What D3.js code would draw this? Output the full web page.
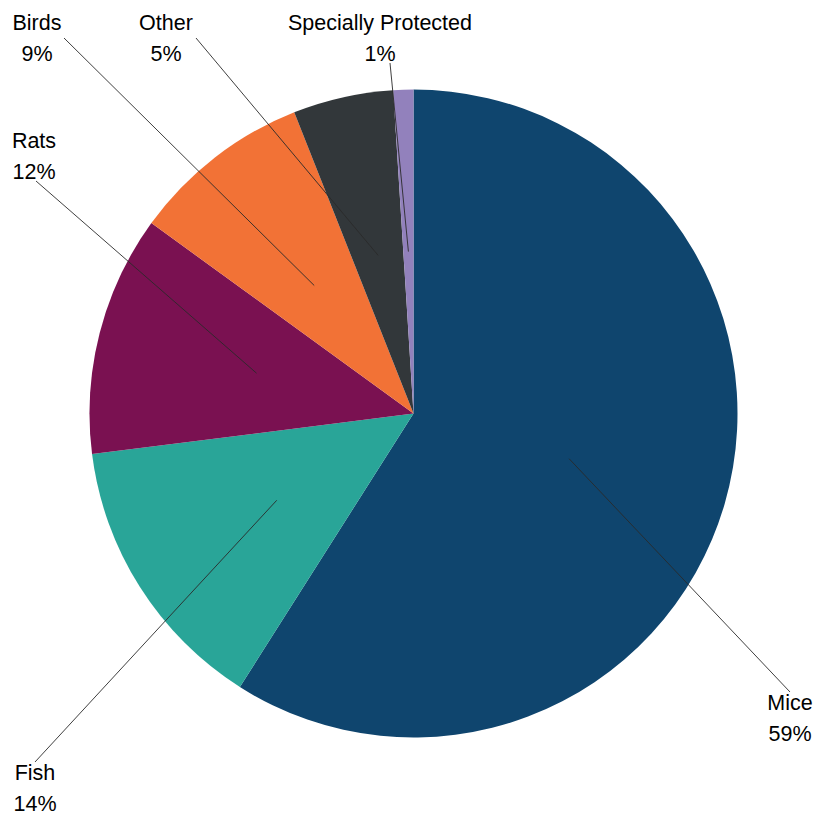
<!DOCTYPE html>
<html>
<head>
<meta charset="utf-8">
<script src="https://cdnjs.cloudflare.com/ajax/libs/d3/7.8.5/d3.min.js"></script>
<style>
  html, body { margin: 0; padding: 0; background: #ffffff; }
  svg { display: block; }
  text { font-family: "Liberation Sans", Arial, sans-serif; font-size: 21.5px; fill: #000; }
</style>
</head>
<body>
<svg id="chart" width="814" height="816"></svg>
<script>
// Share of animals by group (percent), clockwise from 12 o'clock
const categories = ["Mice", "Fish", "Rats", "Birds", "Other", "Specially Protected"];
const values = [59, 14, 12, 9, 5, 1];
const valueLabels = ["59%", "14%", "12%", "9%", "5%", "1%"];
const colors = ["#0f456e", "#29a598", "#7a1151", "#f27236", "#32373a", "#9281bc"];

// Label placement: text centre x, first baseline y, and where the leader line meets the label
const labelLayout = [
  { x: 790, y: 710, lx: 790, ly: 692 },
  { x: 35,  y: 780, lx: 35,  ly: 762 },
  { x: 34,  y: 148, lx: 36,  ly: 181 },
  { x: 37,  y: 30,  lx: 64,  ly: 38 },
  { x: 166, y: 30,  lx: 196, ly: 38 },
  { x: 380, y: 30,  lx: 390, ly: 63 }
];

const cx = 413.5, cy = 413.5, radius = 324;
const lineHeight = 31;

const svg = d3.select("#chart");
const g = svg.append("g").attr("transform", `translate(${cx},${cy})`);

const data = categories.map((c, i) => ({ name: c, value: values[i], label: valueLabels[i], color: colors[i], layout: labelLayout[i] }));

const pie = d3.pie().sort(null).value(d => d.value);
const arcs = pie(data);

const arc = d3.arc().innerRadius(0).outerRadius(radius);
// Leader lines start halfway out along each slice's mid-angle
const innerPoint = d3.arc().innerRadius(radius * 0.5).outerRadius(radius * 0.5);

g.selectAll("path.slice")
  .data(arcs)
  .join("path")
  .attr("class", "slice")
  .attr("d", arc)
  .attr("fill", d => d.data.color);

g.selectAll("line.leader")
  .data(arcs)
  .join("line")
  .attr("class", "leader")
  .attr("x1", d => innerPoint.centroid(d)[0])
  .attr("y1", d => innerPoint.centroid(d)[1])
  .attr("x2", d => d.data.layout.lx - cx)
  .attr("y2", d => d.data.layout.ly - cy)
  .attr("stroke", "#2a2a2a")
  .attr("stroke-width", 0.9);

const labels = svg.selectAll("text.label")
  .data(arcs)
  .join("text")
  .attr("class", "label")
  .attr("text-anchor", "middle");

labels.append("tspan")
  .attr("x", d => d.data.layout.x)
  .attr("y", d => d.data.layout.y)
  .text(d => d.data.name);

labels.append("tspan")
  .attr("x", d => d.data.layout.x)
  .attr("y", d => d.data.layout.y + lineHeight)
  .text(d => d.data.label);
</script>
</body>
</html>
